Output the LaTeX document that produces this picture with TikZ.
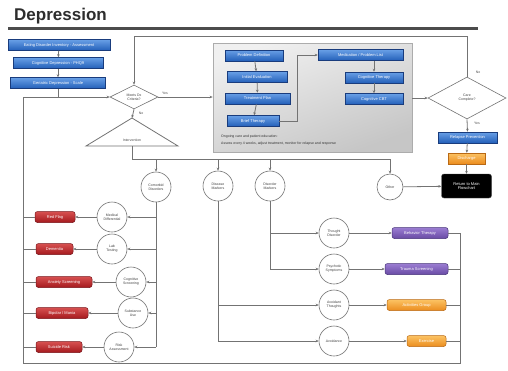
\documentclass[tikz,border=0pt]{standalone}
\usepackage{fontspec}
\setmainfont{Liberation Sans}
\usetikzlibrary{shapes.geometric,arrows.meta}
\definecolor{lnc}{RGB}{115,115,115}
\definecolor{blueT}{RGB}{105,160,230}
\definecolor{blueB}{RGB}{35,95,185}
\definecolor{blueD}{RGB}{25,60,125}
\definecolor{redT}{RGB}{215,80,80}
\definecolor{redB}{RGB}{165,25,30}
\definecolor{redD}{RGB}{120,20,25}
\definecolor{purT}{RGB}{155,125,210}
\definecolor{purB}{RGB}{105,75,165}
\definecolor{purD}{RGB}{70,50,120}
\definecolor{orT}{RGB}{252,195,100}
\definecolor{orB}{RGB}{235,140,30}
\definecolor{orD}{RGB}{185,105,20}
\definecolor{titc}{RGB}{45,45,45}
\begin{document}
\begin{tikzpicture}[x=1pt,y=-1pt,
  font=\fontsize{4}{4.6}\selectfont,
  conn/.style={draw=lnc, line width=0.8pt},
  arr/.style={conn,-{Stealth[length=3pt,width=2.6pt]}},
  boxbase/.style={rectangle, minimum height=11pt, inner sep=0.5pt, align=center, line width=0.5pt, text=white},
  bbox/.style={boxbase, draw=blueD, top color=blueT, bottom color=blueB},
  rbox/.style={boxbase, rounded corners=2.5pt, draw=redD, top color=redT, bottom color=redB},
  pbox/.style={boxbase, rounded corners=2.5pt, draw=purD, top color=purT, bottom color=purB},
  obox/.style={boxbase, rounded corners=2.5pt, draw=orD, top color=orT, bottom color=orB},
  kbox/.style={rectangle, rounded corners=2.5pt, fill=black, draw=black!70, text=white, align=center, inner sep=0.5pt, minimum width=50pt, minimum height=24pt},
  circ/.style={circle, draw=lnc, fill=white, line width=0.6pt, minimum size=30pt, inner sep=0pt, align=center, text=black!75, font=\fontsize{3.5}{4}\selectfont},
  dia/.style={diamond, draw=lnc, fill=white, line width=0.6pt, inner sep=0pt, align=center, text=black!75, font=\fontsize{3.5}{4}\selectfont},
  lbl/.style={text=black!70, font=\fontsize{3.5}{4}\selectfont},
  graybox/.style={rectangle, draw=gray!65, line width=0.7pt, top color=gray!12, bottom color=gray!45, shading angle=20}
]
\useasboundingbox (0,0) rectangle (508,370);

% title
\node[anchor=base west, font=\bfseries\fontsize{17}{17}\selectfont, text=titc, inner sep=0] (title) at (14,20) {Depression};
\draw[line width=2.4pt, titc!85] (8,28.5) -- (478,28.5);

% left assessment boxes
\node[bbox, minimum width=102pt] (b1) at (59,45) {Eating Disorder Inventory - Assessment};
\node[bbox, minimum width=90pt] (b2) at (58,63) {Cognitive Depression - PHQ9};
\node[bbox, minimum width=95pt] (b3) at (58,83) {Geriatric Depression - Scale};

% decisions
\node[dia, minimum width=48pt, minimum height=24pt] (d1) at (134,97) {Meets Dx\\Criteria?};
\node[dia, minimum width=78pt, minimum height=42pt] (d2) at (467,98) {Care\\Complete?};

% triangle
\coordinate (tA) at (132,118);
\coordinate (tB) at (132,146);
\draw[conn, fill=white] (tA) -- (178,146) -- (86,146) -- cycle;
\node[lbl] (tri) at (132,140) {Intervention};

% gray treatment box
\node[graybox, minimum width=199pt, minimum height=109pt] (gb) at (312.5,97.5) {};
\node[bbox, minimum width=58pt] (ia) at (254,55.5) {Problem Definition};
\node[bbox, minimum width=60pt] (ib) at (257,77) {Initial Evaluation};
\node[bbox, minimum width=65pt] (ic) at (257.5,98.5) {Treatment Plan};
\node[bbox, minimum width=52pt] (id) at (253,121) {Brief Therapy};
\node[bbox, minimum width=85pt] (ie) at (360.5,55) {Medication / Problem List};
\node[bbox, minimum width=58pt] (if) at (374,77.5) {Cognitive Therapy};
\node[bbox, minimum width=58pt] (ig) at (374,99) {Cognitive CBT};
\node[anchor=west, inner sep=0, text=black!80, font=\fontsize{3.5}{4}\selectfont] (nt1) at (221,137) {Ongoing care and patient education:};
\node[anchor=west, inner sep=0, text=black!80, font=\fontsize{3.5}{4}\selectfont] (nt2) at (221,144) {Assess every 4 weeks, adjust treatment, monitor for relapse and response};
\draw[arr] (ia) -- (ib);
\draw[arr] (ib) -- (ic);
\draw[arr] (ic) -- (id);
\draw[arr] (ie.south -| if) -- (if);
\draw[arr] (if) -- (ig);
\draw[arr] (id.east) -- ++(18,0) |- (ie.west);

% right column end
\node[bbox, minimum width=59pt] (r1) at (467.5,137.5) {Relapse Prevention};
\node[obox, minimum width=37pt, rounded corners=0pt] (o1) at (466.5,158.5) {Discharge};
\node[kbox] (k1) at (466.5,186) {Return to Main\\Flowchart};

% circles row
\node[circ] (cL) at (156,187) {Comorbid\\Disorders};
\node[circ] (cM1) at (218,186) {Disease\\Markers};
\node[circ] (cM2) at (270,186) {Disorder\\Markers};
\node[circ, minimum size=26pt] (c0) at (390,187) {Other};

% left small circles and red boxes
\node[circ] (sA) at (112,217) {Medical\\Differential};
\node[circ] (sB) at (112,249) {Lab\\Testing};
\node[circ] (sC) at (131,282) {Cognitive\\Screening};
\node[circ] (sD) at (133,313) {Substance\\Use};
\node[circ] (sE) at (119,347) {Risk\\Assessment};
\node[rbox, minimum width=40pt] (rA) at (55,217) {Red Flag};
\node[rbox, minimum width=37pt] (rB) at (54.5,249) {Dementia};
\node[rbox, minimum width=56pt] (rC) at (64,282) {Anxiety Screening};
\node[rbox, minimum width=52pt] (rD) at (62,313) {Bipolar / Mania};
\node[rbox, minimum width=46pt] (rE) at (59,347) {Suicide Risk};

% right circles and boxes
\node[circ] (cF) at (334,233) {Thought\\Disorder};
\node[circ] (cG) at (334,269) {Psychotic\\Symptoms};
\node[circ] (cH) at (334,305) {Avoidant\\Thoughts};
\node[circ] (cI) at (334,341) {Avoidance};
\node[pbox, minimum width=56pt] (pF) at (420,233) {Behavior Therapy};
\node[pbox, minimum width=63pt] (pG) at (416.5,269) {Trauma Screening};
\node[obox, minimum width=59pt] (pH) at (416.5,305) {Activities Group};
\node[obox, minimum width=39pt] (pI) at (426.5,341) {Exercise};

% main loop lines
\coordinate (LT) at (23,97);
\coordinate (LB) at (23,363);
\coordinate (RB) at (460,363);
\draw[arr] (b1) -- (b2);
\draw[arr] (b2) -- (b3);
\draw[conn] (b3.south) -- (b3.south |- d1.west);
\draw[arr] (RB |- pF.east) -- (RB) -- (LB) -- (LT) -- (d1.west);
\draw[arr] (d1.east) -- (gb.west |- d1.east);
\node[lbl] (yes1) at (165,93) {Yes};
\draw[arr] (d1.south) -- (tA);
\node[lbl] (no1) at (141,113) {No};
\coordinate (TL) at (134,36);
\coordinate (TR) at (467,36);
\draw[arr] (d2.north) -- (TR) -- (TL) -- (d1.north);
\node[lbl] (no2) at (478,72) {No};
\draw[arr] (gb.east |- d2.west) -- (d2.west);
\draw[arr] (d2.south) -- (r1.north);
\node[lbl] (yes2) at (477,123) {Yes};
\draw[arr] (r1) -- (o1);
\draw[arr] (o1) -- (k1);
\draw[arr] (c0) -- (k1);

% distribution line
\coordinate (J) at (132,159);
\draw[conn] (tB) -- (J) -- (J -| c0.north);
\foreach \n in {cL,cM1,cM2,c0} \draw[arr] (J -| \n.north) -- (\n.north);

% left branches
\draw[conn] (cL.south) -- (cL.south |- sE.east);
\foreach \s/\r in {sA/rA,sB/rB,sC/rC,sD/rD,sE/rE} {
  \draw[arr] (cL.south |- \s.east) -- (\s.east);
  \draw[arr] (\s.west) -- (\r.east);
  \draw[conn] (\r.west) -- (LT |- \r.west);
}

% right branches
\draw[conn] (cM2.south) -- (cM2.south |- cG.west);
\draw[arr] (cM2.south |- cF.west) -- (cF.west);
\draw[arr] (cM2.south |- cG.west) -- (cG.west);
\draw[conn] (cM1.south) -- (cM1.south |- cI.west);
\draw[arr] (cM1.south |- cH.west) -- (cH.west);
\draw[arr] (cM1.south |- cI.west) -- (cI.west);
\foreach \c/\p in {cF/pF,cG/pG,cH/pH,cI/pI} {
  \draw[arr] (\c.east) -- (\p.west);
  \draw[conn] (\p.east) -- (RB |- \p.east);
}
\end{tikzpicture}
\end{document}
